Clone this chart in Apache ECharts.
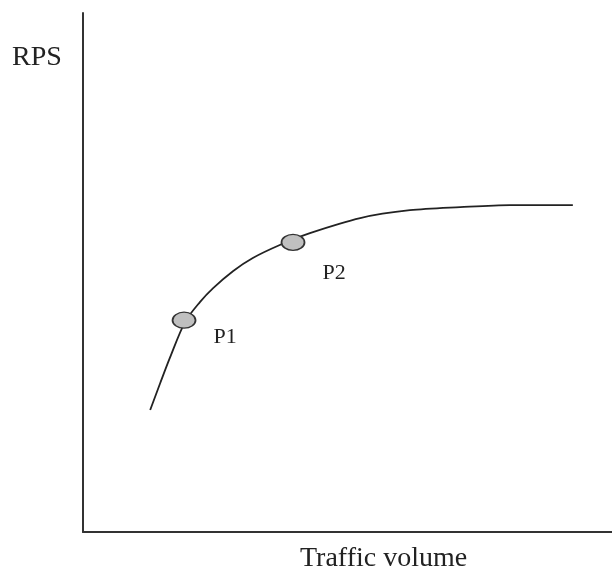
<!DOCTYPE html>
<html>
<head>
<meta charset="utf-8">
<script src="https://cdn.jsdelivr.net/npm/echarts@6/dist/echarts.min.js"></script>
<style>
  html, body { margin: 0; padding: 0; background: #fff; }
  #chart { width: 612px; height: 574px; }
</style>
</head>
<body>
<div id="chart"></div>
<script>
  // curve (abstract units, 0-100 on both axes)
  const curveX = [12.7, 14.6, 16.4, 19.3, 22.1, 24.6, 28.4, 32.1, 37.2, 42.9, 52.4, 61.8, 71.3, 80.7, 92.6];
  const curveY = [23.5, 28.7, 33.5, 40.5, 44.3, 47.0, 50.3, 52.8, 55.3, 57.6, 60.5, 62.0, 62.6, 63.0, 63.0];

  // the two marked operating points
  const pointNames = ['P1', 'P2'];
  const pointX = [19.1, 39.7];
  const pointY = [40.8, 55.8];
  const labelOffsetY = [17, 31];

  const yTitle = 'RPS';
  const xTitle = 'Traffic volume';

  const serif = '"Liberation Serif", "DejaVu Serif", serif';

  const chart = echarts.init(document.getElementById('chart'));

  const axisBase = {
    type: 'value',
    min: 0,
    max: 100,
    axisLine: { show: true, onZero: false, lineStyle: { color: '#333', width: 2 } },
    axisTick: { show: false },
    axisLabel: { show: false },
    splitLine: { show: false }
  };

  const option = {
    animation: false,
    backgroundColor: '#fff',
    grid: { left: 83, right: 0, top: 13, bottom: 42 },
    xAxis: axisBase,
    yAxis: axisBase,
    graphic: [
      {
        type: 'text',
        left: 12,
        top: 44,
        style: { text: yTitle, font: '28px ' + serif, fill: '#222' }
      },
      {
        type: 'text',
        left: 300,
        top: 545,
        style: { text: xTitle, font: '28px ' + serif, fill: '#222' }
      }
    ],
    series: [
      {
        type: 'line',
        data: curveX.map((x, i) => [x, curveY[i]]),
        smooth: 0.3,
        showSymbol: false,
        lineStyle: { color: '#222', width: 1.8 },
        z: 2
      },
      {
        type: 'scatter',
        data: pointX.map((x, i) => ({
          value: [x, pointY[i]],
          name: pointNames[i],
          label: { offset: [0, labelOffsetY[i]] }
        })),
        symbol: 'circle',
        symbolSize: [23, 16],
        itemStyle: { color: '#c0c0c0', borderColor: '#333', borderWidth: 1.5, opacity: 1 },
        label: {
          show: true,
          position: 'right',
          distance: 17,
          formatter: '{b}',
          fontFamily: serif,
          fontSize: 22,
          color: '#222'
        },
        z: 3
      }
    ]
  };

  chart.setOption(option);
</script>
</body>
</html>
